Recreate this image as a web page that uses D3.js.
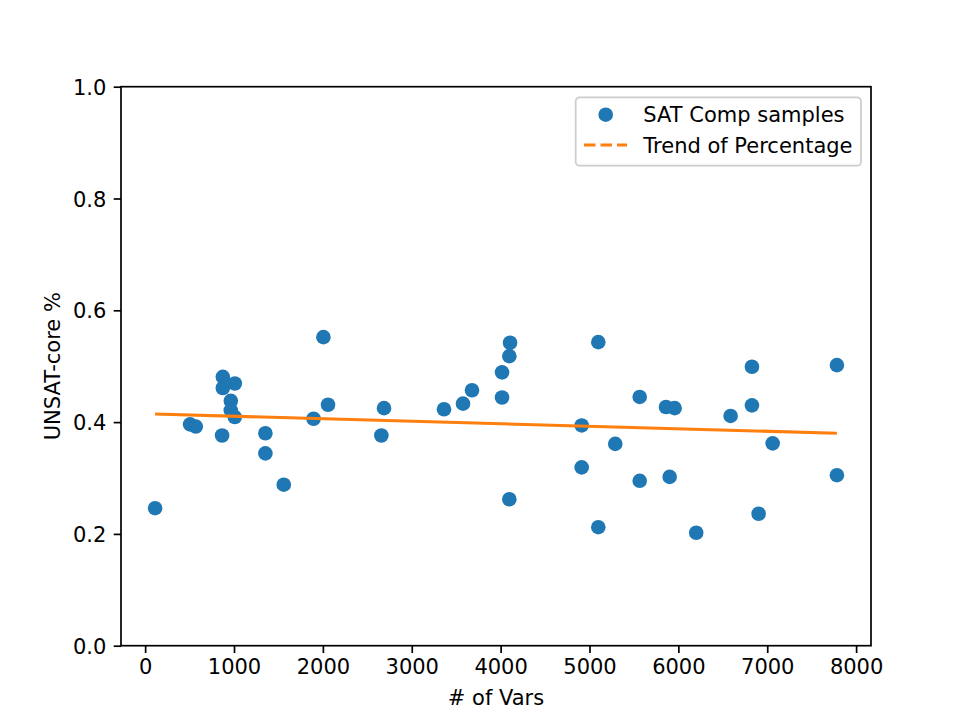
<!DOCTYPE html>
<html>
<head>
<meta charset="utf-8">
<script src="https://cdn.jsdelivr.net/npm/d3@7"></script>
<style>
  body { margin: 0; background: #fff; }
  text { font-family: "DejaVu Sans", sans-serif; fill: #000; }
</style>
</head>
<body>
<svg></svg>
<script>
// scatter de muestras + tendencia

const width = 968;
const height = 726;

const margin = { top: 86.7, right: 97, bottom: 80.3, left: 121 };
const fontSize = "21px";

// datos
const numVars = [112, 506, 570, 874, 874, 1009, 964, 964, 1009, 866,
  1353, 1353, 1560, 1895, 2006, 2058, 2688, 2658, 3363, 3577,
  3678, 4016, 4016, 4106, 4098, 4098, 5099, 5565, 5861, 5958,
  4912, 5290, 4912, 5565, 5902, 5099, 6201, 6828, 7784, 6828,
  6588, 7061, 7784, 6903];
const unsatCore = [0.246, 0.396, 0.392, 0.481, 0.461, 0.469, 0.438, 0.421, 0.409, 0.376,
  0.380, 0.344, 0.288, 0.406, 0.552, 0.431, 0.425, 0.376, 0.423, 0.433,
  0.457, 0.489, 0.444, 0.542, 0.518, 0.262, 0.543, 0.445, 0.427, 0.425,
  0.394, 0.361, 0.319, 0.295, 0.302, 0.212, 0.202, 0.499, 0.502, 0.430,
  0.411, 0.362, 0.305, 0.236];

const trendX = [112, 7784];
const trendY = [0.4145, 0.380];

const xTicks = [0, 1000, 2000, 3000, 4000, 5000, 6000, 7000, 8000];
const yTicks = [0, 0.2, 0.4, 0.6, 0.8, 1.0];

const seriesNames = ["SAT Comp samples", "Trend of Percentage"];

const blue = "#1f77b4";
const orange = "#ff7f0e";

const svg = d3.select("svg").attr("width", width).attr("height", height);

// escala x con margen del 5% como matplotlib
const [xmin, xmax] = d3.extent(numVars);
const pad = (xmax - xmin) * 0.05;
const x = d3
  .scaleLinear()
  .domain([xmin - pad, xmax + pad])
  .range([margin.left, width - margin.right]);

const y = d3
  .scaleLinear()
  .domain([0, 1])
  .range([height - margin.bottom, margin.top]);

// puntos
svg
  .append("g")
  .selectAll("circle")
  .data(numVars)
  .join("circle")
  .attr("cx", (d) => x(d))
  .attr("cy", (d, i) => y(unsatCore[i]))
  .attr("r", 7.3)
  .attr("fill", blue);

// linea de tendencia
svg
  .append("path")
  .datum(trendX.map((d, i) => [d, trendY[i]]))
  .attr("fill", "none")
  .attr("stroke", orange)
  .attr("stroke-width", 3.1)
  .attr("d", d3.line().x((d) => x(d[0])).y((d) => y(d[1])));

// ejeX
const gx = svg
  .append("g")
  .attr("transform", `translate(0,${height - margin.bottom})`)
  .call(d3.axisBottom(x).tickValues(xTicks).tickFormat(d3.format("d")).tickSize(7.3).tickPadding(5));
gx.select(".domain").remove();
gx.selectAll("line").attr("stroke-width", 1.7);
gx.selectAll("text").style("font-size", fontSize).attr("dy", "0.76em");

// ejeY
const gy = svg
  .append("g")
  .attr("transform", `translate(${margin.left},0)`)
  .call(d3.axisLeft(y).tickValues(yTicks).tickFormat(d3.format(".1f")).tickSize(7.3).tickPadding(7.3));
gy.select(".domain").remove();
gy.selectAll("line").attr("stroke-width", 1.7);
gy.selectAll("text").style("font-size", fontSize).attr("dy", "0.36em");

// marco
svg
  .append("rect")
  .attr("x", margin.left)
  .attr("y", margin.top)
  .attr("width", width - margin.left - margin.right)
  .attr("height", height - margin.top - margin.bottom)
  .attr("fill", "none")
  .attr("stroke", "#000")
  .attr("stroke-width", 1.7);

// etiqueta x
svg
  .append("text")
  .attr("x", (margin.left + width - margin.right) / 2)
  .attr("y", 705)
  .attr("text-anchor", "middle")
  .style("font-size", fontSize)
  .text("# of Vars");

// etiqueta y
svg
  .append("text")
  .attr("transform", "rotate(-90)")
  .attr("x", -(margin.top + height - margin.bottom) / 2)
  .attr("y", 60)
  .attr("text-anchor", "middle")
  .style("font-size", fontSize)
  .text("UNSAT-core %");

// leyenda
const legend = svg.append("g");
legend
  .append("rect")
  .attr("x", 575.7)
  .attr("y", 97.3)
  .attr("width", 285.3)
  .attr("height", 68.4)
  .attr("rx", 4)
  .attr("fill", "#fff")
  .attr("fill-opacity", 0.8)
  .attr("stroke", "#cccccc")
  .attr("stroke-width", 1.7);

legend
  .append("circle")
  .attr("cx", 605.7)
  .attr("cy", 114.7)
  .attr("r", 7.3)
  .attr("fill", blue);

legend
  .append("line")
  .attr("x1", 584)
  .attr("x2", 627)
  .attr("y1", 145)
  .attr("y2", 145)
  .attr("stroke", orange)
  .attr("stroke-width", 3.1)
  .attr("stroke-dasharray", "11.5,5");

legend
  .selectAll("text.lab")
  .data(seriesNames)
  .join("text")
  .attr("class", "lab")
  .attr("x", 643.3)
  .attr("y", (d, i) => [114.7, 145][i])
  .attr("dy", "0.36em")
  .style("font-size", fontSize)
  .text((d) => d);
</script>
</body>
</html>
